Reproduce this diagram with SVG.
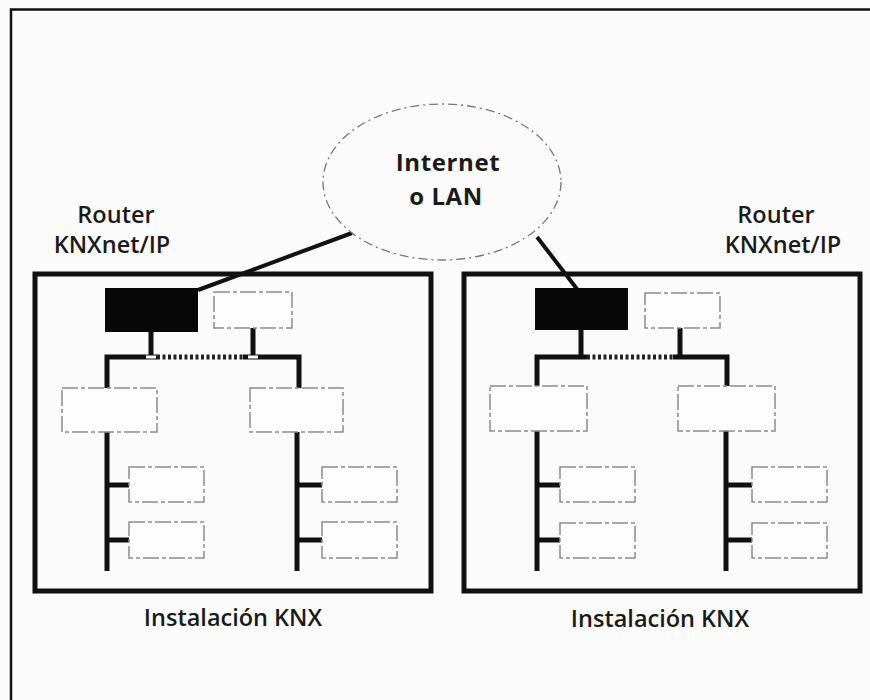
<svg xmlns="http://www.w3.org/2000/svg" width="870" height="700" viewBox="0 0 870 700">
  <style>
    .lbl { font-family: "Open Sans", Lato, "Liberation Sans", sans-serif; fill: #1a1a1a; }
    .title { font-size: 23.5px; font-weight: 600; }
    .cloud { font-size: 24px; font-weight: 700; }
    .inst { fill: none; stroke: #111; stroke-width: 5; }
    .router { fill: #080808; }
    .dev { fill: #fdfdfd; stroke: #8c8c8c; stroke-width: 1.5; stroke-dasharray: 16 3 4 3; }
    .bus { stroke: #111; stroke-width: 5; fill: none; }
    .coupler { stroke: #222; stroke-width: 5; stroke-dasharray: 3 2.5; fill: none; }
    .wan { stroke: #111; stroke-width: 4; fill: none; }
  </style>
  <rect x="0" y="0" width="870" height="700" fill="#fbfbfb"/>
  <path d="M11 700 V9.5 H870" fill="none" stroke="#111" stroke-width="2.5"/>

  <!-- connectors -->
  <g id="connectors">
    <line class="wan" x1="198" y1="290" x2="352" y2="233"/>
    <line class="wan" x1="537" y1="237" x2="577" y2="289"/>
    <!-- left installation bus -->
    <line class="bus" x1="151" y1="332" x2="151" y2="357"/>
    <line class="bus" x1="253" y1="328" x2="253" y2="357"/>
    <polyline class="bus" points="107,392 107,357 157,357"/>
    <polyline class="bus" points="243,357 299,357 299,392"/>
    <line class="coupler" x1="157" y1="357" x2="243" y2="357"/>
    <rect x="146" y="355.5" width="10" height="3" fill="#fff"/>
    <rect x="248" y="355.5" width="10" height="3" fill="#fff"/>
    <line class="bus" x1="107" y1="430" x2="107" y2="571"/>
    <line class="bus" x1="297" y1="430" x2="297" y2="571"/>
    <line class="bus" x1="107" y1="485" x2="129" y2="485"/>
    <line class="bus" x1="107" y1="540" x2="129" y2="540"/>
    <line class="bus" x1="297" y1="485" x2="322" y2="485"/>
    <line class="bus" x1="297" y1="540" x2="322" y2="540"/>
    <!-- right installation bus -->
    <line class="bus" x1="581" y1="330" x2="581" y2="357"/>
    <line class="bus" x1="680" y1="328" x2="680" y2="357"/>
    <polyline class="bus" points="537,392 537,357 587,357"/>
    <polyline class="bus" points="673,357 727,357 727,392"/>
    <line class="coupler" x1="587" y1="357" x2="673" y2="357"/>
    <line class="bus" x1="537" y1="430" x2="537" y2="571"/>
    <line class="bus" x1="726" y1="430" x2="726" y2="571"/>
    <line class="bus" x1="537" y1="485" x2="560" y2="485"/>
    <line class="bus" x1="537" y1="540" x2="560" y2="540"/>
    <line class="bus" x1="726" y1="485" x2="752" y2="485"/>
    <line class="bus" x1="726" y1="540" x2="752" y2="540"/>
  </g>

  <g id="internet">
    <ellipse cx="442" cy="182" rx="119" ry="78" fill="#fafafa" stroke="#777" stroke-width="1.3" stroke-dasharray="9 4 2 4"/>
    <text class="lbl cloud" x="448" y="171" text-anchor="middle" letter-spacing="0.6">Internet</text>
    <text class="lbl cloud" x="446" y="205" text-anchor="middle" letter-spacing="0.6">o LAN</text>
  </g>

  <g id="label-router-left">
    <text class="lbl title" x="116" y="223" text-anchor="middle">Router</text>
    <text class="lbl title" x="112" y="253" text-anchor="middle">KNXnet/IP</text>
  </g>
  <g id="label-router-right">
    <text class="lbl title" x="776" y="223" text-anchor="middle">Router</text>
    <text class="lbl title" x="783" y="253" text-anchor="middle">KNXnet/IP</text>
  </g>

  <g id="install-left">
    <rect class="inst" x="35" y="274" width="396" height="317"/>
    <text class="lbl title" x="233" y="626" text-anchor="middle">Instalación KNX</text>
  </g>
  <g id="router-left"><rect class="router" x="105" y="288" width="93" height="44"/></g>
  <g id="device-left-top"><rect class="dev" x="214" y="292" width="78" height="36"/></g>
  <g id="line-coupler-left-1"><rect class="dev" x="62" y="388" width="95" height="44"/></g>
  <g id="line-coupler-left-2"><rect class="dev" x="250" y="388" width="93" height="44"/></g>
  <g id="device-left-1"><rect class="dev" x="129" y="467" width="75" height="35"/></g>
  <g id="device-left-2"><rect class="dev" x="129" y="522" width="75" height="36"/></g>
  <g id="device-left-3"><rect class="dev" x="322" y="467" width="75" height="35"/></g>
  <g id="device-left-4"><rect class="dev" x="322" y="522" width="75" height="36"/></g>

  <g id="install-right">
    <rect class="inst" x="464" y="274" width="396" height="317"/>
    <text class="lbl title" x="660" y="627" text-anchor="middle">Instalación KNX</text>
  </g>
  <g id="router-right"><rect class="router" x="535" y="288" width="93" height="42"/></g>
  <g id="device-right-top"><rect class="dev" x="645" y="293" width="75" height="35"/></g>
  <g id="line-coupler-right-1"><rect class="dev" x="490" y="386" width="97" height="45"/></g>
  <g id="line-coupler-right-2"><rect class="dev" x="678" y="386" width="97" height="45"/></g>
  <g id="device-right-1"><rect class="dev" x="560" y="467" width="75" height="35"/></g>
  <g id="device-right-2"><rect class="dev" x="560" y="523" width="75" height="35"/></g>
  <g id="device-right-3"><rect class="dev" x="752" y="467" width="75" height="35"/></g>
  <g id="device-right-4"><rect class="dev" x="752" y="523" width="75" height="35"/></g>
</svg>
